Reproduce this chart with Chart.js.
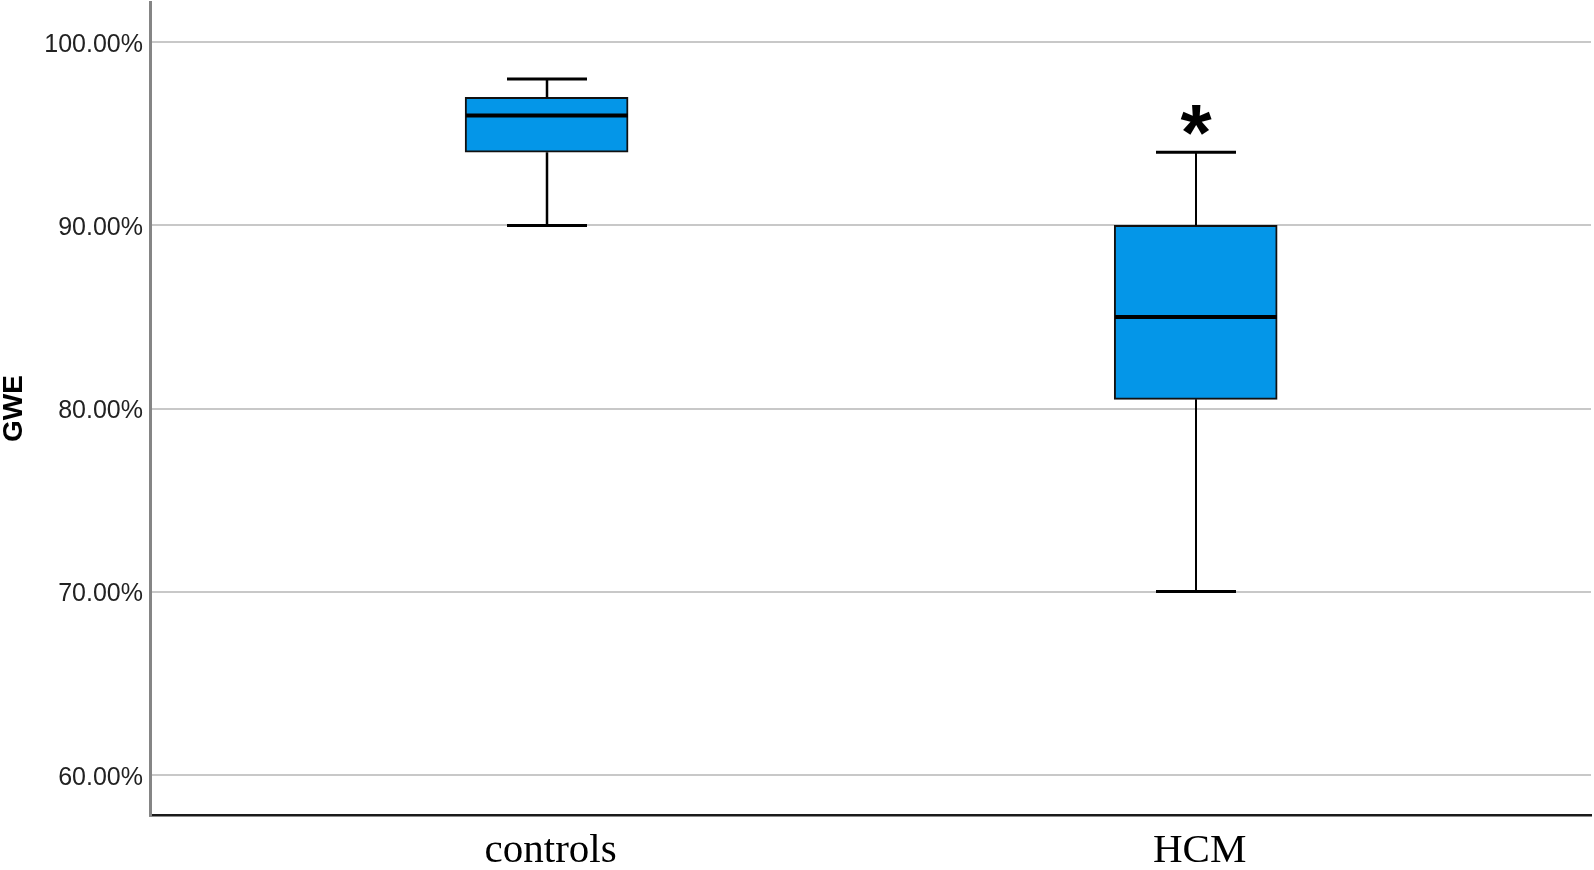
<!DOCTYPE html>
<html>
<head>
<meta charset="utf-8">
<script src="https://cdn.jsdelivr.net/npm/chart.js@4/dist/chart.umd.min.js"></script>
<style>
  html, body { margin: 0; padding: 0; background: #fff; }
  #wrap { width: 1594px; height: 870px; }
</style>
</head>
<body>
<div id="wrap"><canvas id="gweChart"></canvas></div>
<script>
// Box plot data (GWE, %)
const categories = ["controls", "HCM"];
const whiskerLow = [90, 70];
const quartile1 = [94, 80.5];
const medians = [96, 85];
const quartile3 = [97, 90];
const whiskerHigh = [98, 94];
const significant = [false, true];
const yTicks = [60, 70, 80, 90, 100];

// boxes as floating bars
const boxData = categories.map(function (name, i) {
  return { x: i + 1, y: [quartile1[i], quartile3[i]] };
});

// whiskers, caps, medians and the asterisk drawn through the chart scales
const boxExtras = {
  id: "boxExtras",
  afterDatasetsDraw: function (chart) {
    const ctx = chart.ctx;
    const xs = chart.scales.x;
    const ys = chart.scales.y;
    const capHalf = 40;
    const boxHalf = 81;
    ctx.save();
    ctx.strokeStyle = "#000";
    categories.forEach(function (name, i) {
      const cx = Math.round(xs.getPixelForValue(i + 1));
      // whisker stems
      ctx.lineWidth = i === 0 ? 2.5 : 2;
      ctx.beginPath();
      ctx.moveTo(cx, ys.getPixelForValue(quartile3[i]));
      ctx.lineTo(cx, ys.getPixelForValue(whiskerHigh[i]));
      ctx.moveTo(cx, ys.getPixelForValue(quartile1[i]));
      ctx.lineTo(cx, ys.getPixelForValue(whiskerLow[i]));
      ctx.stroke();
      // caps
      ctx.lineWidth = 3;
      ctx.beginPath();
      [whiskerHigh[i], whiskerLow[i]].forEach(function (v) {
        const y = ys.getPixelForValue(v);
        ctx.moveTo(cx - capHalf, y);
        ctx.lineTo(cx + capHalf, y);
      });
      ctx.stroke();
      // median
      ctx.lineWidth = 4;
      ctx.beginPath();
      const my = ys.getPixelForValue(medians[i]);
      ctx.moveTo(cx - boxHalf, my);
      ctx.lineTo(cx + boxHalf, my);
      ctx.stroke();
      // significance marker
      if (significant[i]) {
        ctx.fillStyle = "#000";
        ctx.font = "bold 80px 'Liberation Sans', Arial, sans-serif";
        ctx.textAlign = "center";
        ctx.textBaseline = "alphabetic";
        ctx.fillText("*", cx, ys.getPixelForValue(whiskerHigh[i]) + 8);
      }
    });
    ctx.restore();
  },
};

const ctx = document.getElementById("gweChart").getContext("2d");
new Chart(ctx, {
  type: "bar",
  data: {
    datasets: [
      {
        data: boxData,
        backgroundColor: "#0496e8",
        borderColor: "#111",
        borderWidth: 2,
        borderSkipped: false,
        barThickness: 163,
      },
    ],
  },
  options: {
    responsive: true,
    maintainAspectRatio: false,
    animation: false,
    layout: { padding: { top: 2, right: 3, left: 0, bottom: 0 } },
    plugins: {
      legend: { display: false },
      tooltip: { enabled: false },
    },
    scales: {
      x: {
        type: "linear",
        offset: false,
        min: 0.389,
        max: 2.609,
        afterBuildTicks: function (scale) {
          scale.ticks = categories.map(function (c, i) {
            return { value: i + 1 };
          });
        },
        afterFit: function (scale) {
          scale.height = 55;
          scale.paddingLeft = 0;
          scale.paddingRight = 0;
        },
        grid: { display: false, drawTicks: false },
        border: { display: true, color: "#1a1a1a", width: 2.5 },
        ticks: {
          autoSkip: false,
          maxRotation: 0,
          padding: 12,
          labelOffset: 4,
          color: "#000",
          font: { family: "'Liberation Serif', 'Times New Roman', serif", size: 41 },
          callback: function (value) {
            return categories[value - 1];
          },
        },
      },
      y: {
        min: 57.8,
        max: 102.2,
        afterBuildTicks: function (scale) {
          scale.ticks = yTicks.map(function (v) {
            return { value: v };
          });
        },
        afterFit: function (scale) {
          scale.width = 150;
          scale.paddingTop = 0;
          scale.paddingBottom = 0;
        },
        grid: { color: "#c8c8c8", lineWidth: 2, drawTicks: false },
        border: { display: true, color: "#858585", width: 3 },
        ticks: {
          padding: 7,
          labelOffset: 3,
          color: "#222",
          font: { family: "'Liberation Sans', Arial, sans-serif", size: 25 },
          callback: function (value) {
            return value.toFixed(2) + "%";
          },
        },
        title: {
          display: true,
          text: "GWE",
          color: "#000",
          padding: 0,
          font: { family: "'Liberation Sans', Arial, sans-serif", size: 28, weight: "bold", lineHeight: 1 },
        },
      },
    },
  },
  plugins: [boxExtras],
});
</script>
</body>
</html>
